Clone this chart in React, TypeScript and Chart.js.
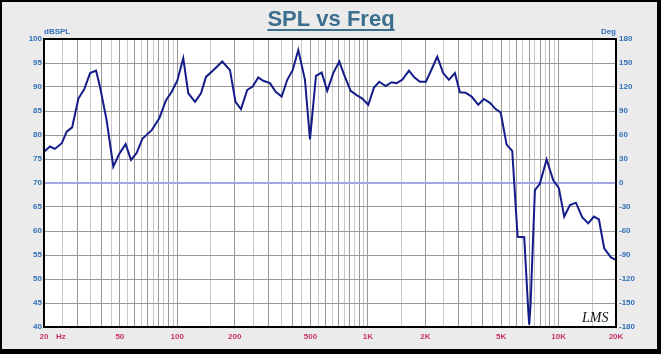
import React, { useEffect, useRef } from "react";
import { Chart, registerables } from "chart.js";

Chart.register(...registerables);

// Frequency (Hz) and SPL (dB)
const FREQ = [20, 21.5, 22.8, 24.8, 26.3, 28.1, 30.3, 32.5, 34.9, 37.5,
  39.3, 42.6, 46.2, 49.5, 53.6, 57.2, 61.3, 65.6, 73.4, 80.5,
  87.2, 93.5, 100, 107.5, 114.2, 123.9, 133.2, 141.4, 154.5, 172.2,
  189, 202, 215.8, 232.8, 248.6, 266, 282.4, 306.2, 328.2, 352.8,
  377.4, 403, 431.2, 467.4, 496.6, 533.8, 571.8, 611.8, 657.8, 707.4,
  757.4, 811.6, 872.4, 933.6, 1004, 1076, 1147, 1238, 1331, 1414,
  1513, 1641, 1749, 1874, 2014, 2158, 2310, 2482, 2658, 2858,
  3036, 3254, 3498, 3788, 4058, 4364, 4674, 4966, 5338, 5712,
  6096, 6604, 6930, 7012, 7132, 7510, 7980, 8650, 9368, 10040,
  10700, 11466, 12326, 13294, 14296, 15316, 16270, 17348, 18808, 20000];

const SPL = [76.5, 77.6, 77.1, 78.3, 80.7, 81.6, 87.6, 89.5, 92.9, 93.4,
  90.1, 83.1, 73.4, 76.0, 78.1, 74.8, 76.3, 79.2, 81.0, 83.5,
  87.2, 89.0, 91.3, 96.0, 88.7, 86.9, 88.7, 92.1, 93.5, 95.3,
  93.5, 86.9, 85.4, 89.4, 90.1, 92.0, 91.3, 90.8, 89.0, 88.0,
  91.5, 93.5, 97.7, 91.5, 79.1, 92.3, 93.0, 89.2, 92.9, 95.3,
  92.1, 89.2, 88.3, 87.6, 86.3, 89.9, 91.1, 90.2, 91.0, 90.8,
  91.5, 93.4, 92.0, 91.1, 91.1, 93.7, 96.3, 92.9, 91.5, 92.9,
  88.9, 88.8, 88.0, 86.3, 87.5, 86.7, 85.4, 84.7, 78.0, 76.7,
  58.8, 58.7, 43.5, 40.5, 44.9, 68.5, 69.9, 74.9, 70.6, 68.9,
  63.0, 65.4, 65.9, 62.9, 61.6, 63.0, 62.4, 56.4, 54.5, 54.0];

const X_LABELS: Record<number, string> = {
  20: "20", 50: "50", 100: "100", 200: "200", 500: "500",
  1000: "1K", 2000: "2K", 5000: "5K", 10000: "10K", 20000: "20K",
};

const TITLE = "SPL vs Freq";
const LEFT_UNIT = "dBSPL";
const RIGHT_UNIT = "Deg";
const X_UNIT = "Hz";
const LOGO = "LMS";

// grid frequencies: steps of half a decade-unit, plus 1.5x
function buildXGrid(): number[] {
  const out: number[] = [];
  for (const d of [10, 100, 1000]) {
    for (let m = 2; m <= 10.001; m += 0.5) out.push(Math.round(m * d));
    out.push(Math.round(15 * d));
  }
  out.push(20000);
  return Array.from(new Set(out)).sort((a, b) => a - b);
}
const X_GRID = buildXGrid();

const FONT = "'Liberation Sans', Arial, sans-serif";
const BLUE = "#2F6FB8";
const RED = "#C8306C";
const GRID_MAJOR = "#999999";
const GRID_MINOR = "#C8C8C8";

export default function App() {
  const ref = useRef<HTMLCanvasElement | null>(null);
  useEffect(() => {
    document.body.style.margin = "0";
    const canvas = ref.current!;
    const deco = {
      id: "deco",
      beforeDraw(chart: any) {
        const ctx = chart.ctx;
        const a = chart.chartArea;
        ctx.save();
        ctx.fillStyle = "#000";
        ctx.fillRect(0, 0, chart.width, chart.height);
        ctx.fillStyle = "#EBEBEB";
        ctx.fillRect(2, 2, 655, 347);
        ctx.fillStyle = "#FFFFFF";
        ctx.fillRect(a.left, a.top, a.right - a.left, a.bottom - a.top);
        ctx.restore();
      },
      afterDraw(chart: any) {
        const ctx = chart.ctx;
        const a = chart.chartArea;
        ctx.save();
        ctx.strokeStyle = "#000";
        ctx.lineWidth = 2;
        ctx.strokeRect(a.left, a.top, a.right - a.left, a.bottom - a.top);
        // title
        ctx.font = `bold 22px ${FONT}`;
        ctx.fillStyle = "#3C6E8E";
        ctx.textAlign = "center";
        ctx.textBaseline = "alphabetic";
        const cx = 331;
        ctx.fillText(TITLE, cx, 26);
        const w = ctx.measureText(TITLE).width;
        ctx.fillRect(cx - w / 2, 29, w, 2);
        // axis units
        ctx.font = `bold 8px ${FONT}`;
        ctx.fillStyle = BLUE;
        ctx.textBaseline = "middle";
        ctx.textAlign = "left";
        ctx.fillText(LEFT_UNIT, a.left, 32);
        ctx.textAlign = "right";
        ctx.fillText(RIGHT_UNIT, a.right, 32);
        ctx.fillStyle = RED;
        ctx.textAlign = "left";
        ctx.fillText(X_UNIT, a.left + 12, 336.5);
        // logo
        ctx.font = `italic 14px 'Liberation Serif', serif`;
        ctx.fillStyle = "#111";
        ctx.textBaseline = "alphabetic";
        ctx.fillText(LOGO, 582, 322);
        ctx.restore();
      },
    };
    const chart = new Chart(canvas, {
      type: "line",
      data: {
        datasets: [
          {
            data: FREQ.map((f, i) => ({ x: f, y: SPL[i] })),
            borderColor: "#131C88",
            borderWidth: 2,
            pointRadius: 0,
            tension: 0,
            fill: false,
            yAxisID: "y",
          },
        ],
      },
      options: {
        animation: false,
        responsive: false,
        devicePixelRatio: 1,
        layout: { padding: { top: 39, left: 0, right: 0, bottom: 0 } },
        plugins: { legend: { display: false }, tooltip: { enabled: false } },
        scales: {
          x: {
            type: "logarithmic",
            min: 20,
            max: 20000,
            afterBuildTicks: (s: any) => {
              s.ticks = X_GRID.map((v) => ({ value: v }));
            },
            afterFit: (s: any) => {
              s.height = 27;
            },
            border: { display: false },
            grid: {
              drawTicks: false,
              color: (c: any) => {
                const v = c.tick ? c.tick.value : 0;
                const m = v / Math.pow(10, Math.floor(Math.log10(v) + 1e-9));
                return Math.abs(m - Math.round(m)) < 1e-6 ? GRID_MAJOR : GRID_MINOR;
              },
              lineWidth: 1,
            },
            ticks: {
              autoSkip: false,
              maxRotation: 0,
              padding: 5,
              color: RED,
              font: { family: FONT, size: 8, weight: "bold" },
              callback: (v: any) => X_LABELS[Math.round(Number(v))] ?? "",
            },
          },
          y: {
            position: "left",
            min: 40,
            max: 100,
            afterFit: (s: any) => {
              s.width = 44;
            },
            border: { display: false },
            grid: {
              drawTicks: false,
              color: (c: any) => {
                const v = c.tick ? c.tick.value : 0;
                if (v === 70) return "#A4A4E0";
                return v % 5 === 0 ? GRID_MAJOR : GRID_MINOR;
              },
              lineWidth: (c: any) => (c.tick && c.tick.value === 70 ? 2 : 1),
            },
            ticks: {
              stepSize: 2.5,
              padding: 2,
              color: BLUE,
              font: { family: FONT, size: 8, weight: "bold" },
              callback: (v: any) => (Number(v) % 5 === 0 ? String(v) : ""),
            },
          },
          y2: {
            position: "right",
            min: -180,
            max: 180,
            afterFit: (s: any) => {
              s.width = 45;
            },
            border: { display: false },
            grid: { display: false, drawTicks: false },
            ticks: {
              stepSize: 30,
              padding: 3,
              color: BLUE,
              font: { family: FONT, size: 8, weight: "bold" },
            },
          },
        },
      },
      plugins: [deco],
    } as any);
    return () => chart.destroy();
  }, []);
  return (
    <div style={{ width: 661, height: 354 }}>
      <canvas ref={ref} width={661} height={354} style={{ width: 661, height: 354, display: "block" }} />
    </div>
  );
}
